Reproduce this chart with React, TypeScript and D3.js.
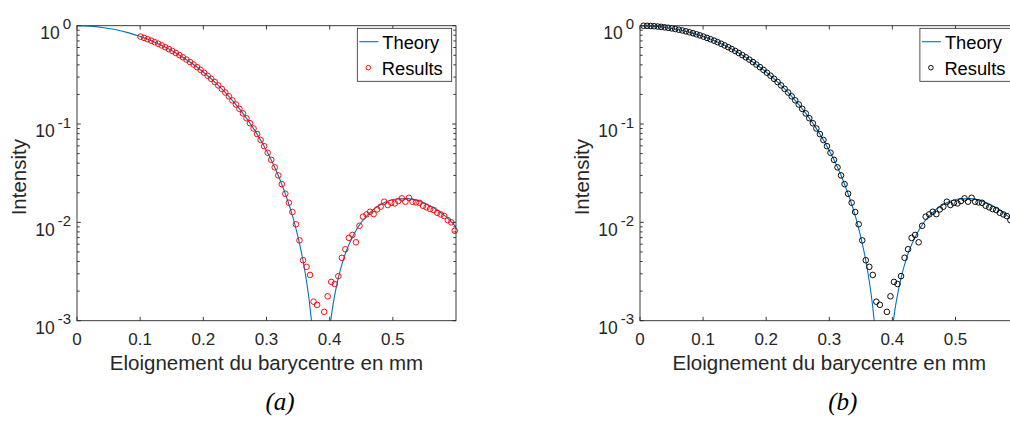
import React from 'react';
import * as d3 from 'd3';

// Theory curve (Airy pattern)
const theoryX = [0, 0.02012, 0.04024, 0.06036, 0.08048, 0.1006, 0.12072, 0.14085, 0.16097, 0.18109, 0.20121, 0.22133, 0.24145, 0.26157, 0.28169, 0.30181, 0.32193, 0.34205, 0.35211, 0.35714, 0.36217, 0.3672, 0.37223, 0.37727, 0.39236, 0.39739, 0.40242, 0.41248, 0.42254, 0.44266, 0.46278, 0.4829, 0.50302, 0.52314, 0.54326, 0.56338, 0.5835, 0.60362];
const theoryI = [1, 0.99, 0.9604, 0.9133, 0.8501, 0.7748, 0.6897, 0.5993, 0.5075, 0.4175, 0.3326, 0.2555, 0.1879, 0.1312, 0.08564, 0.05111, 0.02667, 0.01111, 0.006164, 0.004315, 0.002815, 0.00168, 0.000849, 0.000314, 0.000196, 0.000566, 0.001089, 0.00251, 0.004356, 0.008497, 0.012447, 0.015469, 0.017171, 0.017424, 0.016356, 0.014255, 0.011501, 0.008507];

// Measured results
const resultsX = [0.0056, 0.0112, 0.0168, 0.0224, 0.028, 0.0335, 0.0391, 0.0447, 0.0503, 0.0559, 0.0615, 0.0671, 0.0727, 0.0783, 0.0839, 0.0894, 0.095, 0.1006, 0.1062, 0.1118, 0.1174, 0.123, 0.1286, 0.1342, 0.1398, 0.1453, 0.1509, 0.1565, 0.1621, 0.1677, 0.1733, 0.1789, 0.1845, 0.1901, 0.1957, 0.2012, 0.2068, 0.2124, 0.218, 0.2236, 0.2292, 0.2348, 0.2404, 0.246, 0.2516, 0.2571, 0.2627, 0.2683, 0.2739, 0.2795, 0.2851, 0.2907, 0.2963, 0.3019, 0.3075, 0.313, 0.3186, 0.3242, 0.3298, 0.3354, 0.341, 0.3466, 0.3522, 0.3578, 0.3634, 0.3689, 0.3745, 0.3801, 0.3857, 0.3913, 0.3969, 0.4025, 0.4081, 0.4137, 0.4193, 0.4248, 0.4304, 0.436, 0.4416, 0.4472, 0.4528, 0.4584, 0.464, 0.4696, 0.4752, 0.4807, 0.4863, 0.4919, 0.4975, 0.5031, 0.5087, 0.5143, 0.5199, 0.5255, 0.5311, 0.5366, 0.5422, 0.5478, 0.5534, 0.559, 0.5646, 0.5702, 0.5758, 0.5814, 0.587, 0.5925, 0.5981];
const resultsI = [0.9993, 0.997, 0.9931, 0.9876, 0.9808, 0.9725, 0.9627, 0.9517, 0.9391, 0.9253, 0.9101, 0.8939, 0.8764, 0.8578, 0.8385, 0.8179, 0.7967, 0.7746, 0.7516, 0.7283, 0.7044, 0.6798, 0.655, 0.6298, 0.6044, 0.5789, 0.5534, 0.5277, 0.5022, 0.477, 0.4519, 0.4271, 0.4027, 0.3787, 0.3553, 0.3325, 0.3101, 0.2885, 0.2676, 0.2472, 0.2278, 0.2091, 0.1912, 0.1742, 0.158, 0.1427, 0.1282, 0.1146, 0.1019, 0.09006, 0.07903, 0.06884, 0.05954, 0.05102, 0.04327, 0.03629, 0.03003, 0.02448, 0.01954, 0.01585, 0.01274, 0.00955, 0.00656, 0.00412, 0.00353, 0.00292, 0.00156, 0.00145, 0.0006, 0.00123, 0.00177, 0.00248, 0.00236, 0.00284, 0.00436, 0.00533, 0.00695, 0.00745, 0.00627, 0.00923, 0.01143, 0.01205, 0.01282, 0.01213, 0.01355, 0.01442, 0.01622, 0.015, 0.01581, 0.0156, 0.01648, 0.01754, 0.01622, 0.01778, 0.01622, 0.01596, 0.01581, 0.01476, 0.01422, 0.01365, 0.01334, 0.01253, 0.01205, 0.01159, 0.01054, 0.01, 0.00822];

const xTicks = [0, 0.1, 0.2, 0.3, 0.4, 0.5];
const xTickLabels = ['0', '0.1', '0.2', '0.3', '0.4', '0.5'];
const yExponents = [0, -1, -2, -3];
const yExponentLabels = ['0', '-1', '-2', '-3'];
const legendLabels = ['Theory', 'Results'];
const captions = ['(a)', '(b)'];
const resultColors = ['#ff0000', '#000000'];
const resultMinX = [0.1, 0];
const xLabel = 'Eloignement du barycentre en mm';
const yLabel = 'Intensity';

const SANS = '"Liberation Sans", Arial, Helvetica, sans-serif';
const SERIF = '"Liberation Serif", "Times New Roman", serif';
const AX = '#262626';
const LINE = '#0072bd';

const TOP = 25.7;
const BOTTOM = 320.7;

function Panel({ idx, left, right }: { idx: number; left: number; right: number }) {
  const x = d3.scaleLinear().domain([0, 0.6]).range([left, right]);
  const y = d3.scaleLog().domain([1e-3, 1]).range([BOTTOM, TOP]);
  const theory = theoryX.map((v, i) => [v, theoryI[i]] as [number, number]);
  const line = d3
    .line<[number, number]>()
    .x((d) => x(d[0]))
    .y((d) => y(d[1]))
    .curve(d3.curveMonotoneX);
  const pts = resultsX
    .map((v, i) => [v, resultsI[i]] as [number, number])
    .filter((d) => d[0] >= resultMinX[idx] - 1e-9 && d[1] >= 1e-3 && d[1] <= 1);
  const tl = 3.8;
  const minor: number[] = [];
  for (let e = -3; e < 0; e++) for (let m = 2; m <= 9; m++) minor.push(m * Math.pow(10, e));
  const clipId = `clip${idx}`;
  const cx = (left + right) / 2;
  const legR = right - 4.3;
  const legL = legR - 94.4;
  const legT = 28.3;
  const color = resultColors[idx];
  return (
    <g>
      <defs>
        <clipPath id={clipId}>
          <rect x={left} y={TOP} width={right - left} height={BOTTOM - TOP} />
        </clipPath>
      </defs>
      <path d={line(theory) || ''} fill="none" stroke={LINE} strokeWidth={1.1} clipPath={`url(#${clipId})`} />
      {pts.map((d, i) => (
        <circle key={i} cx={x(d[0])} cy={y(d[1])} r={2.8} fill="none" stroke={color} strokeWidth={0.95} />
      ))}
      <rect x={left} y={TOP} width={right - left} height={BOTTOM - TOP} fill="none" stroke={AX} strokeWidth={0.9} />
      {xTicks.map((t, i) => (
        <g key={'xt' + i}>
          <line x1={x(t)} x2={x(t)} y1={BOTTOM} y2={BOTTOM - tl} stroke={AX} strokeWidth={0.9} />
          <line x1={x(t)} x2={x(t)} y1={TOP} y2={TOP + tl} stroke={AX} strokeWidth={0.9} />
          <text x={x(t)} y={345} textAnchor="middle" fontFamily={SANS} fontSize={17} fill={AX}>
            {xTickLabels[i]}
          </text>
        </g>
      ))}
      {yExponents.map((e, i) => (
        <g key={'yt' + i}>
          <line x1={left} x2={left + tl} y1={y(Math.pow(10, e))} y2={y(Math.pow(10, e))} stroke={AX} strokeWidth={0.9} />
          <line x1={right} x2={right - tl} y1={y(Math.pow(10, e))} y2={y(Math.pow(10, e))} stroke={AX} strokeWidth={0.9} />
          <text x={left - 6} y={y(Math.pow(10, e)) + 13.3} textAnchor="end" fontFamily={SANS} fontSize={17.5} fill={AX}>
            10
            <tspan dx={3} dy={-9.7} fontSize={15}>
              {yExponentLabels[i]}
            </tspan>
          </text>
        </g>
      ))}
      {minor.map((v, i) => (
        <g key={'ym' + i}>
          <line x1={left} x2={left + tl * 0.7} y1={y(v)} y2={y(v)} stroke={AX} strokeWidth={0.9} />
          <line x1={right} x2={right - tl * 0.7} y1={y(v)} y2={y(v)} stroke={AX} strokeWidth={0.9} />
        </g>
      ))}
      <text x={cx} y={370} textAnchor="middle" fontFamily={SANS} fontSize={20.5} fill={AX}>
        {xLabel}
      </text>
      <text
        transform={`translate(${left - 51},${(TOP + BOTTOM) / 2 + 4}) rotate(-90)`}
        textAnchor="middle"
        fontFamily={SANS}
        fontSize={20.5}
        fill={AX}
      >
        {yLabel}
      </text>
      <text x={cx + 13.5} y={410} textAnchor="middle" fontFamily={SERIF} fontStyle="italic" fontSize={25} fill="#000">
        {captions[idx]}
      </text>
      <rect x={legL} y={legT} width={94.4} height={53} fill="#fff" stroke={AX} strokeWidth={0.8} />
      <line x1={legL + 2} x2={legL + 21} y1={41.7} y2={41.7} stroke={LINE} strokeWidth={1.1} />
      <text x={legL + 25} y={48.5} fontFamily={SANS} fontSize={18.3} fill="#000">
        {legendLabels[0]}
      </text>
      <circle cx={legL + 11} cy={67.7} r={2.3} fill="none" stroke={color} strokeWidth={0.95} />
      <text x={legL + 24.5} y={74.5} fontFamily={SANS} fontSize={18.3} fill="#000">
        {legendLabels[1]}
      </text>
    </g>
  );
}

export default function App() {
  return (
    <svg width={1010} height={421} style={{ position: 'absolute', left: 0, top: 0, background: '#fff' }}>
      <rect x={0} y={0} width={1010} height={421} fill="#fff" />
      <Panel idx={0} left={77} right={456} />
      <Panel idx={1} left={640} right={1018.6} />
    </svg>
  );
}
